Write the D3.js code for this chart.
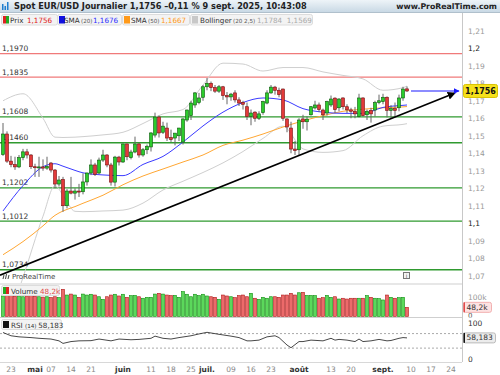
<html>
<head>
<meta charset="utf-8">
<script src="https://d3js.org/d3.v7.min.js"></script>
<style>
  body { margin: 0; background: #fff; }
  text { font-family: "DejaVu Sans", sans-serif; }
</style>
</head>
<body>
<svg id="chart" width="500" height="375"></svg>
<script>
// ---- data ----
var opens  = [1.1393,1.1510,1.1355,1.1335,1.1322,1.1375,1.1408,1.1390,1.1323,1.1318,1.1322,1.1315,1.1344,1.1304,1.1224,1.1250,1.1100,1.1184,1.1172,1.1184,
              1.1180,1.1236,1.1287,1.1333,1.1287,1.1361,1.1390,1.1333,1.1235,1.1378,1.1350,1.1453,1.1375,1.1407,1.1453,1.1390,1.1420,1.1436,1.1504,1.1607,
              1.1520,1.1544,1.1490,1.1487,1.1500,1.1464,1.1590,1.1615,1.1676,1.1690,1.1720,1.1780,1.1800,1.1775,1.1755,1.1780,1.1730,1.1722,1.1745,1.1705,
              1.1690,1.1666,1.1610,1.1635,1.1600,1.1632,1.1687,1.1745,1.1778,1.1760,1.1767,1.1596,1.1544,1.1424,1.1420,1.1596,1.1580,1.1620,1.1659,1.1676,
              1.1647,1.1630,1.1676,1.1715,1.1660,1.1716,1.1666,1.1648,1.1640,1.1610,1.1716,1.1620,1.1645,1.1647,1.1690,1.1695,1.1720,1.1645,1.1655,1.1660,
              1.1716,1.1768];
var highs  = [1.1573,1.1525,1.1385,1.1380,1.1390,1.1425,1.1425,1.1395,1.1340,1.1380,1.1365,1.1380,1.1350,1.1310,1.1270,1.1265,1.1195,1.1265,1.1200,1.1225,
              1.1285,1.1290,1.1365,1.1345,1.1375,1.1420,1.1395,1.1345,1.1385,1.1385,1.1455,1.1455,1.1420,1.1495,1.1460,1.1430,1.1450,1.1520,1.1632,1.1615,
              1.1580,1.1575,1.1535,1.1505,1.1545,1.1600,1.1650,1.1700,1.1750,1.1745,1.1790,1.1830,1.1810,1.1790,1.1790,1.1785,1.1750,1.1745,1.1760,1.1720,
              1.1700,1.1690,1.1650,1.1640,1.1640,1.1700,1.1760,1.1790,1.1785,1.1775,1.1770,1.1600,1.1580,1.1470,1.1600,1.1620,1.1610,1.1670,1.1700,1.1690,
              1.1655,1.1700,1.1730,1.1720,1.1715,1.1720,1.1680,1.1660,1.1665,1.1740,1.1720,1.1650,1.1660,1.1700,1.1735,1.1740,1.1725,1.1675,1.1690,1.1735,
              1.1780,1.1782];
var lows   = [1.1385,1.1345,1.1320,1.1305,1.1315,1.1360,1.1370,1.1310,1.1265,1.1265,1.1300,1.1305,1.1290,1.1200,1.1210,1.1065,1.1085,1.1165,1.1135,1.1150,
              1.1165,1.1215,1.1275,1.1270,1.1280,1.1350,1.1320,1.1215,1.1210,1.1330,1.1345,1.1360,1.1365,1.1400,1.1375,1.1380,1.1395,1.1410,1.1490,1.1490,
              1.1510,1.1470,1.1465,1.1445,1.1470,1.1450,1.1580,1.1590,1.1660,1.1680,1.1700,1.1760,1.1755,1.1745,1.1745,1.1705,1.1680,1.1700,1.1690,1.1670,
              1.1650,1.1590,1.1560,1.1580,1.1590,1.1620,1.1680,1.1740,1.1735,1.1720,1.1585,1.1520,1.1400,1.1390,1.1390,1.1540,1.1530,1.1615,1.1650,1.1635,
              1.1590,1.1615,1.1665,1.1630,1.1640,1.1650,1.1630,1.1600,1.1600,1.1605,1.1610,1.1590,1.1575,1.1610,1.1680,1.1680,1.1605,1.1600,1.1610,1.1640,
              1.1700,1.1750];
var closes = [1.1510,1.1355,1.1335,1.1322,1.1375,1.1408,1.1390,1.1323,1.1318,1.1322,1.1315,1.1325,1.1304,1.1224,1.1247,1.1100,1.1184,1.1172,1.1184,1.1178,
              1.1236,1.1287,1.1333,1.1280,1.1361,1.1390,1.1333,1.1235,1.1378,1.1350,1.1453,1.1380,1.1407,1.1453,1.1390,1.1420,1.1440,1.1516,1.1607,1.1516,
              1.1555,1.1487,1.1478,1.1515,1.1544,1.1596,1.1647,1.1687,1.1745,1.1716,1.1780,1.1800,1.1775,1.1755,1.1780,1.1730,1.1722,1.1738,1.1705,1.1687,
              1.1680,1.1610,1.1630,1.1600,1.1625,1.1695,1.1745,1.1778,1.1760,1.1735,1.1600,1.1550,1.1424,1.1415,1.1590,1.1580,1.1595,1.1666,1.1676,1.1650,
              1.1620,1.1695,1.1710,1.1650,1.1710,1.1666,1.1648,1.1640,1.1625,1.1716,1.1615,1.1640,1.1625,1.1690,1.1700,1.1720,1.1645,1.1655,1.1645,1.1716,
              1.1767,1.1756];
var volumes = [108,110,112,106,108,104,108,110,106,104,102,104,100,104,100,143,113,118,113,101,
               118,113,117,113,104,90,104,113,117,108,117,101,110,111,104,96,101,101,118,122,
               118,113,110,111,101,131,117,104,117,110,117,108,104,101,90,113,108,104,99,110,
               113,104,122,96,90,101,96,104,104,101,113,113,122,113,125,127,111,111,110,96,
               99,111,101,104,92,96,92,96,96,96,96,110,101,96,94,87,113,101,96,99,
               101,48.2];

// indicator lines, sampled at these candle indexes
var lineIdx  = [0,5,10,13,15,18,20,25,30,35,40,45,50,55,60,65,70,75,80,85,90,95,100,101];
var sma20    = [1.1070,1.1215,1.1323,1.1340,1.1326,1.1302,1.1288,1.1276,1.1272,1.1336,1.1382,1.1464,1.1556,1.1635,1.1690,1.1716,1.1705,1.1655,1.1635,1.1628,1.1628,1.1662,1.1674,1.1676];
var sma50    = [1.0820,1.0895,1.0985,1.1045,1.1070,1.1095,1.1114,1.1160,1.1220,1.1270,1.1310,1.1350,1.1390,1.1445,1.1475,1.1510,1.1550,1.1585,1.1615,1.1640,1.1652,1.1660,1.1665,1.1667];
var bollUp   = [1.1700,1.1740,1.1600,1.1492,1.1490,1.1492,1.1495,1.1505,1.1520,1.1570,1.1625,1.1650,1.1790,1.1915,1.1910,1.1870,1.1890,1.1890,1.1865,1.1845,1.1825,1.1760,1.1775,1.1784];
var bollLow  = [1.0350,1.0690,1.1040,1.1215,1.1160,1.1068,1.1066,1.1070,1.1075,1.1115,1.1190,1.1240,1.1290,1.1345,1.1410,1.1485,1.1555,1.1425,1.1405,1.1415,1.1500,1.1555,1.1565,1.1569];

var rsiIdx  = [0,2,4,7,9,12,14,15,17,19,22,24,27,29,32,34,37,38,40,42,44,47,49,51,54,57,59,61,62,64,66,68,69,71,72,74,75,77,80,82,83,84,86,88,89,90,92,94,96,97,99,100,101];
var rsiVals = [73,64,61,59,57,55,50,43,48,50,50.5,55,50,55,53,54,57,63,57,55,59,64,69,73.5,68,63,59,50,50,52,61,64,59,38.5,31,48,48,52,50,57,52,54,52,48,55,48,50,54,50,51,57,59,58.183];

var redLevels   = [1.1970, 1.1835];
var greenLevels = [1.1608, 1.1460, 1.1202, 1.1012, 1.0734];
var trendIdx  = [0, 113];
var trendVals = [1.0710, 1.1744];

var tickDates  = ["2025-04-23","2025-05-01","2025-05-07","2025-05-14","2025-05-21","2025-06-02","2025-06-11","2025-06-18","2025-06-25","2025-07-01",
                  "2025-07-09","2025-07-16","2025-07-23","2025-08-01","2025-08-13","2025-08-20","2025-09-01","2025-09-10","2025-09-17","2025-09-24"];
var tickLabels = ["23","mai","07","14","21","juin","11","18","25","juil.","09","16","23","août","13","20","sept.","10","17","24"];

// ---- setup ----
var svg = d3.select("#chart");
var fr = d3.formatLocale({decimal: ",", thousands: " ", grouping: [3], currency: ["", "€"]});
var f4 = fr.format(".4f");

var days = d3.utcDay.range(new Date(Date.UTC(2025, 3, 21)), new Date(Date.UTC(2025, 8, 27)))
  .filter(function(d) { return d.getUTCDay() != 0 && d.getUTCDay() != 6; })
  .map(d3.utcFormat("%Y-%m-%d"));

var axisX = 462;
var x = d3.scaleBand().domain(days).range([1, 461]).padding(0);
function cx(i) { return x(days[i]) + x.bandwidth() / 2; }

var y = d3.scaleLinear().domain([1.07, 1.21]).range([275.7, 30.8]);
var yVol = d3.scaleLinear().domain([0, 100]).range([316.5, 297.5]);
var yRsi = d3.scaleLinear().domain([0, 100]).range([359, 322.7]);

var defs = svg.append("defs");
defs.append("linearGradient").attr("id", "hdr").attr("x1", 0).attr("x2", 0).attr("y1", 0).attr("y2", 1)
  .selectAll("stop").data([["0%", "#eef4f8"], ["100%", "#c9d9e5"]]).enter().append("stop")
  .attr("offset", function(d) { return d[0]; }).attr("stop-color", function(d) { return d[1]; });
defs.append("clipPath").attr("id", "clipP").append("rect").attr("x", 0).attr("y", 26).attr("width", axisX).attr("height", 257);
defs.append("clipPath").attr("id", "clipV").append("rect").attr("x", 462).attr("y", 284).attr("width", 38).attr("height", 33.5);
function marker(id, color) {
  defs.append("marker").attr("id", id).attr("viewBox", "0 0 10 10").attr("refX", 9).attr("refY", 5)
    .attr("markerWidth", 5).attr("markerHeight", 5).attr("orient", "auto")
    .append("path").attr("d", "M0,0L10,5L0,10z").attr("fill", color);
}
marker("arBlack", "#000");
marker("arBlue", "#1a1aff");

// ---- header ----
svg.append("rect").attr("x", 0).attr("y", 0).attr("width", 500).attr("height", 12).attr("fill", "url(#hdr)");
svg.append("line").attr("x1", 0).attr("x2", 500).attr("y1", 12.5).attr("y2", 12.5).attr("stroke", "#b0c0cc");
[[2, 6], [4.5, 4], [7, 8]].forEach(function(b) {
  svg.append("rect").attr("x", b[0]).attr("y", 10 - b[1]).attr("width", 1.5).attr("height", b[1]).attr("fill", "#1f7fd0");
});
svg.append("text").attr("x", 14).attr("y", 9.3).attr("font-size", 8.2).attr("font-weight", "bold").attr("fill", "#222")
  .attr("font-family", "Liberation Sans")
  .text("Spot EUR/USD Journalier " + f4(closes[closes.length - 1]) + " \u20130,11 % 9 sept. 2025, 10:43:08");
svg.append("text").attr("x", 497).attr("y", 9.3).attr("font-size", 7.8).attr("font-weight", "bold").attr("fill", "#222")
  .attr("font-family", "Liberation Sans").attr("text-anchor", "end").text("www.ProRealTime.com");

// legend boxes (box x/width, and x of label, sub-label and value)
var legend = [
  {bx: 1, bw: 56, lx: 10, sx: 0, vx: 27, sw: ["#d22", "#2a2"], label: "Prix", sub: "", val: f4(closes[closes.length - 1]), col: "#e02020"},
  {bx: 57, bw: 64, lx: 64, sx: 81, vx: 93, sw: ["#1010e0"], label: "SMA", sub: "(20)", val: f4(sma20[sma20.length - 1]), col: "#3030ff"},
  {bx: 122, bw: 67, lx: 131, sx: 148, vx: 161, sw: ["#ff9a1a"], label: "SMA", sub: "(50)", val: f4(sma50[sma50.length - 1]), col: "#ff9a1a"},
  {bx: 190, bw: 122, lx: 200, sx: 233, vx: 257, sw: ["#c8c8c8"], label: "Bollinger", sub: "(20 2,5)", val: f4(bollUp[bollUp.length - 1]) + "  " + f4(bollLow[bollLow.length - 1]), col: "#aaa"}
];
legend.forEach(function(l) {
  var g = svg.append("g");
  g.append("rect").attr("x", l.bx + 0.5).attr("y", 14.5).attr("width", l.bw).attr("height", 10.5).attr("rx", 2)
    .attr("fill", "#f3f3f3").attr("stroke", "#dcdcdc");
  if (l.sw.length == 2) {
    g.append("rect").attr("x", l.bx + 2).attr("y", 16).attr("width", 3).attr("height", 7.5).attr("fill", l.sw[0]);
    g.append("rect").attr("x", l.bx + 5).attr("y", 16).attr("width", 3).attr("height", 7.5).attr("fill", l.sw[1]);
  } else {
    g.append("rect").attr("x", l.bx + 2).attr("y", 16).attr("width", 6).attr("height", 7.5).attr("fill", l.sw[0]);
  }
  var t = g.append("text").attr("y", 22.7).attr("font-size", 7.2).attr("fill", "#333").style("white-space", "pre");
  t.append("tspan").attr("x", l.lx).text(l.label);
  if (l.sub) t.append("tspan").attr("x", l.sx).attr("font-size", 5.6).attr("fill", "#555").text(l.sub);
  t.append("tspan").attr("x", l.vx).attr("fill", l.col).text(l.val);
});

// ---- price panel ----
svg.append("line").attr("x1", axisX + 0.5).attr("x2", axisX + 0.5).attr("y1", 13).attr("y2", 362).attr("stroke", "#c8c8c8");

var yTicks = d3.range(107, 122).map(function(v) { return v / 100; });
var yAxis = d3.axisRight(y).tickValues(yTicks).tickSize(0).tickPadding(6)
  .tickFormat(function(d) { return fr.format("~g")(d); });
var ga = svg.append("g").attr("transform", "translate(" + axisX + ",0)").call(yAxis);
ga.select(".domain").remove();
ga.selectAll("text").attr("font-size", 7.5).attr("font-family", "DejaVu Sans").attr("fill", function(d) {
  return (Math.abs(d - 1.2) < 1e-6 || Math.abs(d - 1.1) < 1e-6) ? "#222" : "#999";
});

var pane = svg.append("g").attr("clip-path", "url(#clipP)");

// support / resistance levels
redLevels.forEach(function(v) {
  pane.append("line").attr("x1", 0).attr("x2", axisX).attr("y1", y(v)).attr("y2", y(v)).attr("stroke", "#f07a7a").attr("stroke-width", 1.3);
});
greenLevels.forEach(function(v) {
  pane.append("line").attr("x1", 0).attr("x2", axisX).attr("y1", y(v)).attr("y2", y(v)).attr("stroke", "#2f9a2f").attr("stroke-width", 1.3);
});
redLevels.concat(greenLevels).forEach(function(v) {
  pane.append("text").attr("x", 2).attr("y", y(v) - 2.5).attr("font-size", 7.5).attr("fill", "#333").text(f4(v));
});

// indicator lines
function idxLine(vals) {
  return d3.line().x(function(d, k) { return cx(lineIdx[k]); }).y(function(d) { return y(d); }).curve(d3.curveMonotoneX)(vals);
}
pane.append("path").attr("d", idxLine(bollUp)).attr("fill", "none").attr("stroke", "#cfcfcf").attr("stroke-width", 1);
pane.append("path").attr("d", idxLine(bollLow)).attr("fill", "none").attr("stroke", "#cfcfcf").attr("stroke-width", 1);
pane.append("path").attr("d", idxLine(sma50)).attr("fill", "none").attr("stroke", "#ffa733").attr("stroke-width", 1);
pane.append("path").attr("d", idxLine(sma20)).attr("fill", "none").attr("stroke", "#3a3aff").attr("stroke-width", 1);

// candles
var candles = pane.selectAll("g.c").data(closes).enter().append("g").attr("class", "c");
candles.append("line")
  .attr("x1", function(d, i) { return cx(i); }).attr("x2", function(d, i) { return cx(i); })
  .attr("y1", function(d, i) { return y(highs[i]); }).attr("y2", function(d, i) { return y(lows[i]); })
  .attr("stroke", "#666").attr("stroke-width", 1);
candles.append("rect")
  .attr("x", function(d, i) { return cx(i) - 1.5; }).attr("width", 3)
  .attr("y", function(d, i) { return y(Math.max(opens[i], d)); })
  .attr("height", function(d, i) { return Math.max(1, Math.abs(y(opens[i]) - y(d))); })
  .attr("fill", function(d, i) { return d >= opens[i] ? "#2ccc2c" : "#e23a3a"; })
  .attr("stroke", function(d, i) { return d >= opens[i] ? "#0a5a0a" : "#7a1010"; })
  .attr("stroke-width", 0.6);

// trend line (extended to the left edge) with arrow
var tx0 = cx(trendIdx[0]), tx1 = cx(trendIdx[1]), ty0 = y(trendVals[0]), ty1 = y(trendVals[1]);
var slope = (ty1 - ty0) / (tx1 - tx0);
svg.append("line").attr("x1", 0).attr("y1", ty0 - slope * tx0).attr("x2", tx1).attr("y2", ty1)
  .attr("stroke", "#000").attr("stroke-width", 1.6).attr("marker-end", "url(#arBlack)");

// current price arrow
var last = closes[closes.length - 1];
svg.append("line").attr("x1", cx(102)).attr("x2", 459).attr("y1", y(last)).attr("y2", y(last))
  .attr("stroke", "#1a1aff").attr("stroke-width", 1.2).attr("marker-end", "url(#arBlue)");
svg.append("rect").attr("x", 463.5).attr("y", y(last) - 6.5).attr("width", 34).attr("height", 13).attr("rx", 2)
  .attr("fill", "#f6e11c").attr("stroke", "#d8c200");
svg.append("text").attr("x", 480.5).attr("y", y(last) + 3).attr("text-anchor", "middle").attr("font-size", 8)
  .attr("font-weight", "bold").attr("fill", "#111").text(f4(last));

// watermark
svg.append("text").attr("x", 12).attr("y", 279).attr("font-size", 7).attr("fill", "#444").text("ProRealTime");
svg.append("path").attr("d", "M3,279 l1,-4 M5.5,279 l1,-5 M8,279 l1,-4").attr("stroke", "#444").attr("stroke-width", 1);
svg.append("rect").attr("x", 403.5).attr("y", 272.5).attr("width", 6).attr("height", 6).attr("fill", "#f4f4f4").attr("stroke", "#777");
svg.append("text").attr("x", 406.5).attr("y", 277.8).attr("text-anchor", "middle").attr("font-size", 5.5).attr("fill", "#555").text("i");

// panel separators
[284, 317.5].forEach(function(v) {
  svg.append("line").attr("x1", 0).attr("x2", axisX).attr("y1", v).attr("y2", v).attr("stroke", "#cfcfcf");
});

// ---- volume panel ----
svg.selectAll("rect.v").data(volumes).enter().append("rect").attr("class", "v")
  .attr("x", function(d, i) { return cx(i) - 1.5; }).attr("width", 3)
  .attr("y", function(d) { return yVol(d); })
  .attr("height", function(d) { return yVol(0) - yVol(d); })
  .attr("fill", function(d, i) { return closes[i] >= opens[i] ? "#5bd85b" : "#ec6a6a"; })
  .attr("stroke", function(d, i) { return closes[i] >= opens[i] ? "#0f8f0f" : "#b01a1a"; })
  .attr("stroke-width", 0.6);
svg.append("rect").attr("x", 1.5).attr("y", 285.5).attr("width", 58).attr("height", 10).attr("rx", 2).attr("fill", "#f3f3f3").attr("stroke", "#dcdcdc");
svg.append("rect").attr("x", 3).attr("y", 287).attr("width", 3).attr("height", 7).attr("fill", "#2a2");
svg.append("rect").attr("x", 6).attr("y", 287).attr("width", 3).attr("height", 7).attr("fill", "#d22");
var vt = svg.append("text").attr("x", 11).attr("y", 293.5).attr("font-size", 7.2).attr("fill", "#333");
vt.append("tspan").text("Volume ");
vt.append("tspan").attr("fill", "#e04a4a").text(fr.format(".1f")(volumes[volumes.length - 1]) + "k");
svg.append("text").attr("x", 468).attr("y", yVol(100) + 2.5).attr("font-size", 7.5).attr("fill", "#999").text("100k");
svg.append("text").attr("x", 468).attr("y", 317.5).attr("font-size", 7).attr("fill", "#555")
  .attr("clip-path", "url(#clipV)").text("0");
svg.append("rect").attr("x", 463.5).attr("y", yVol(48.2) - 5).attr("width", 28).attr("height", 10).attr("rx", 2)
  .attr("fill", "#fde2e2").attr("stroke", "#f2b0b0");
svg.append("rect").attr("x", 463.5).attr("y", yVol(48.2) - 5).attr("width", 1.5).attr("height", 10).attr("fill", "#e04a4a");
svg.append("text").attr("x", 466.5).attr("y", yVol(48.2) + 2.5).attr("font-size", 7.5).attr("fill", "#333").text("48,2k");

// ---- RSI panel ----
[70, 30].forEach(function(v) {
  svg.append("line").attr("x1", 0).attr("x2", axisX).attr("y1", yRsi(v)).attr("y2", yRsi(v))
    .attr("stroke", "#aaa").attr("stroke-dasharray", "2,2");
});
svg.append("path").attr("d", d3.line().x(function(d, k) { return cx(rsiIdx[k]); }).y(function(d) { return yRsi(d); })(rsiVals))
  .attr("fill", "none").attr("stroke", "#333").attr("stroke-width", 0.9);
svg.append("rect").attr("x", 1.5).attr("y", 319.5).attr("width", 60).attr("height", 10).attr("rx", 2).attr("fill", "#f3f3f3").attr("stroke", "#dcdcdc");
svg.append("rect").attr("x", 3).attr("y", 321).attr("width", 6).attr("height", 7).attr("fill", "#111");
var rt = svg.append("text").attr("x", 11).attr("y", 327.5).attr("font-size", 7.2).attr("fill", "#333");
rt.append("tspan").text("RSI ");
rt.append("tspan").attr("font-size", 5.6).text("(14) ");
rt.append("tspan").text(fr.format(".3f")(rsiVals[rsiVals.length - 1]));
svg.append("text").attr("x", 468).attr("y", yRsi(100) + 2.8).attr("font-size", 7.5).attr("fill", "#333").text("100");
svg.append("text").attr("x", 468).attr("y", yRsi(0) + 2.5).attr("font-size", 7.5).attr("fill", "#333").text("0");
svg.append("rect").attr("x", 463.5).attr("y", yRsi(58.183) - 5).attr("width", 32).attr("height", 10).attr("rx", 2)
  .attr("fill", "#ececec").attr("stroke", "#bbb");
svg.append("rect").attr("x", 463.5).attr("y", yRsi(58.183) - 5).attr("width", 1.5).attr("height", 10).attr("fill", "#111");
svg.append("text").attr("x", 466.5).attr("y", yRsi(58.183) + 2.5).attr("font-size", 7.5).attr("fill", "#333").text("58,183");

// ---- date axis ----
svg.append("line").attr("x1", 0).attr("x2", axisX).attr("y1", 362.5).attr("y2", 362.5).attr("stroke", "#d8d8d8");
svg.selectAll("text.xt").data(tickDates).enter().append("text").attr("class", "xt")
  .attr("x", function(d) { return x(d) + x.bandwidth() / 2; }).attr("y", 372)
  .attr("text-anchor", "middle").attr("font-size", 7.5)
  .attr("font-weight", function(d, i) { return /[a-z]/.test(tickLabels[i]) ? "bold" : "normal"; })
  .attr("fill", function(d, i) { return /[a-z]/.test(tickLabels[i]) ? "#333" : "#888"; })
  .text(function(d, i) { return tickLabels[i]; });
</script>
</body>
</html>
